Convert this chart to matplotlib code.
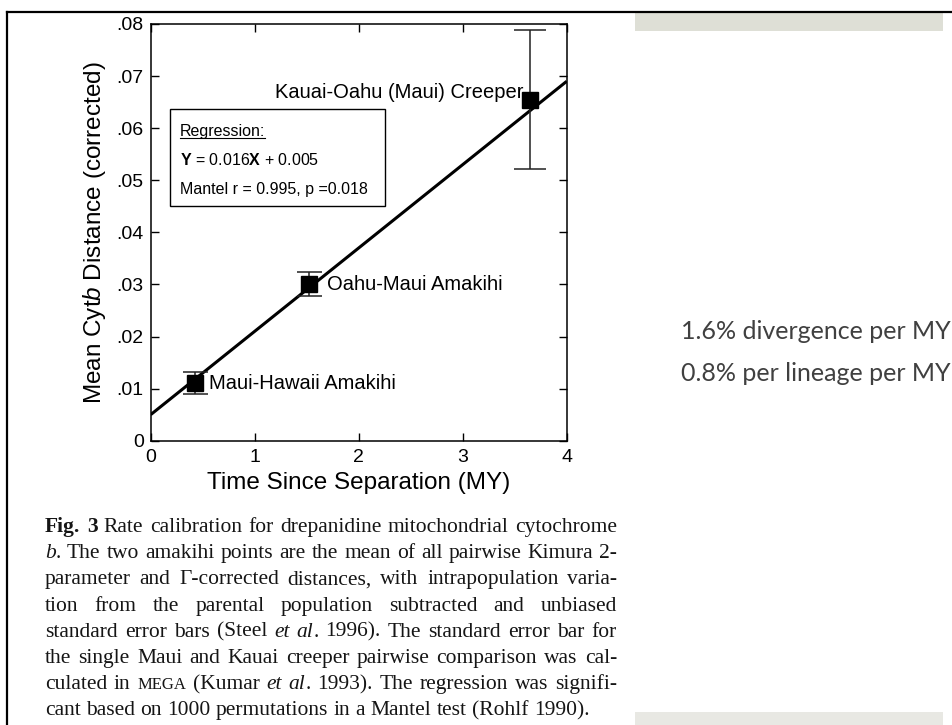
import re
import matplotlib
matplotlib.use('Agg')
import matplotlib.pyplot as plt
from matplotlib.patches import Rectangle
from matplotlib.lines import Line2D
from matplotlib.ticker import FuncFormatter

plt.rcParams['font.family'] = ['Liberation Sans', 'DejaVu Sans']
plt.rcParams['mathtext.fontset'] = 'custom'
plt.rcParams['mathtext.rm'] = 'Liberation Sans'
plt.rcParams['mathtext.it'] = 'Liberation Sans:italic'
plt.rcParams['mathtext.bf'] = 'Liberation Sans:bold'

# calibration points: time since separation vs mean corrected cyt b distance
pairs = ['Maui-Hawaii Amakihi', 'Oahu-Maui Amakihi', 'Kauai-Oahu (Maui) Creeper']
time_my = [0.43, 1.52, 3.65]
distance = [0.011, 0.030, 0.0655]
std_err = [0.0021, 0.0023, 0.0134]
cap_sizes = [9, 9, 11.5]
label_offsets = [(10, 0), (13, 0), (-5, 5)]
label_align = ['left', 'left', 'right']

slope, intercept = 0.016, 0.005
mantel_r, mantel_p = 0.995, 0.018

x_ticks = [0, 1, 2, 3, 4]
y_ticks = [0, 0.01, 0.02, 0.03, 0.04, 0.05, 0.06, 0.07, 0.08]

rate_notes = ['1.6% divergence per MY', '0.8% per lineage per MY']

caption_lines = [
    "**Fig.** **3** Rate calibration for drepanidine mitochondrial cytochrome",
    "*b*. The two amakihi points are the mean of all pairwise Kimura 2-",
    "parameter and \u0393-corrected distances, with intrapopulation varia-",
    "tion from the parental population subtracted and unbiased",
    "standard error bars (Steel *et* *al*. 1996). The standard error bar for",
    "the single Maui and Kauai creeper pairwise comparison was cal-",
    "culated in ^MEGA^ (Kumar *et* *al*. 1993). The regression was signifi-",
    "cant based on 1000 permutations in a Mantel test (Rohlf 1990).",
]

W, H = 952, 725
fig = plt.figure(figsize=(W / 100, H / 100), dpi=100)
fig.patch.set_facecolor('white')


def fx(px):
    return px / W


def fy(py):
    return 1 - py / H


# slide frame and grey header/footer strips
fig.add_artist(Line2D([fx(7), fx(952)], [fy(12), fy(12)], color='black', lw=1.6))
fig.add_artist(Line2D([fx(7), fx(7)], [fy(12), fy(725)], color='black', lw=1.6))
fig.add_artist(Rectangle((fx(635), fy(31)), fx(943) - fx(635), fy(13) - fy(31),
                         transform=fig.transFigure, color='#dedfd6', lw=0))
fig.add_artist(Rectangle((fx(635), fy(725)), fx(943) - fx(635), fy(712) - fy(725),
                         transform=fig.transFigure, color='#e8e8e3', lw=0))

ax = fig.add_axes([fx(150.7), fy(440.7), (566.7 - 150.7) / W, (440.7 - 24) / H])

# regression line across the full axis
xs = [x_ticks[0], x_ticks[-1]]
ax.plot(xs, [slope * x + intercept for x in xs], color='black', lw=2.2,
        solid_capstyle='butt', zorder=2)

for name, x, y, e, cs, off, ha in zip(pairs, time_my, distance, std_err,
                                      cap_sizes, label_offsets, label_align):
    ax.errorbar(x, y, yerr=e, fmt='s', color='black', ms=11.5,
                ecolor='#222222', elinewidth=1.1, capsize=cs, capthick=1.1, zorder=3)
    ax.annotate(name, (x, y), xytext=off, textcoords='offset points',
                ha=ha, va='center', fontsize=14.5)

ax.set_xlim(x_ticks[0], x_ticks[-1])
ax.set_ylim(y_ticks[0], y_ticks[-1])
ax.set_xticks(x_ticks)
ax.set_yticks(y_ticks)
ax.yaxis.set_major_formatter(FuncFormatter(
    lambda v, p: '0' if abs(v) < 1e-9 else ('%.2f' % v).lstrip('0')))
ax.tick_params(direction='in', length=6, width=1, top=True, right=True,
               labelsize=14, pad=5)
ax.tick_params(axis='x', pad=6)
for s in ax.spines.values():
    s.set_linewidth(1.1)

ax.set_xlabel('Time Since Separation (MY)', fontsize=17.5, labelpad=4)
ax.set_ylabel('Mean Cyt$\\mathit{b}$ Distance (corrected)', fontsize=17.5, labelpad=6)

# regression summary box
ax.add_patch(Rectangle((0.19, 0.0451), 2.06, 0.0186, fill=False, lw=1,
                       edgecolor='black', zorder=4))
reg_title = ax.text(0.28, 0.0594, 'Regression:', fontsize=11.5, va='center')
ax.text(0.28, 0.0539, '$\\mathbf{Y}$ = %.3f$\\mathbf{X}$ + %.3f' % (slope, intercept),
        fontsize=11.5, va='center')
ax.text(0.28, 0.0482, 'Mantel r = %.3f, p =%.3f' % (mantel_r, mantel_p),
        fontsize=11.5, va='center')

renderer = fig.canvas.get_renderer()
bb = reg_title.get_window_extent(renderer)
inv = fig.transFigure.inverted()
(u0, v0), (u1, _) = inv.transform([(bb.x0, bb.y0 + 1), (bb.x1, bb.y0 + 1)])
fig.add_artist(Line2D([u0, u1], [v0, v0], color='black', lw=0.8))

# rate notes on the right
for i, note in enumerate(rate_notes):
    fig.text(fx(681), fy(331 + 42 * i), note, family='Lato', fontsize=18,
             color='#404040', va='center', ha='left')

# justified figure caption
base = dict(family='Liberation Serif', fontsize=15.5, color='#151515')
styles = {
    'b': dict(base, fontweight='bold'),
    'i': dict(base, style='italic'),
    'c': dict(base, fontsize=12),
    'n': base,
}


def split_word(word):
    segs = []
    for b, i, c, n in re.findall(r'\*\*(.+?)\*\*|\*(.+?)\*|\^(.+?)\^|([^*^]+)', word):
        if b:
            segs.append((b, 'b'))
        elif i:
            segs.append((i, 'i'))
        elif c:
            segs.append((c, 'c'))
        else:
            segs.append((n, 'n'))
    return segs


def text_width(s, kind):
    t = fig.text(0, 0, s, **styles[kind])
    w = t.get_window_extent(renderer).width
    t.remove()
    return w


left, right = 45, 617
space_w = text_width('a a', 'n') - 2 * text_width('a', 'n')
for k, line in enumerate(caption_lines):
    words = [split_word(w) for w in line.split(' ')]
    widths = [[text_width(s, kind) for s, kind in w] for w in words]
    total = sum(sum(w) for w in widths)
    last = k == len(caption_lines) - 1
    gap = space_w if last else (right - left - total) / (len(words) - 1)
    x = left
    baseline = 532 + 26.2 * k
    for w, ws in zip(words, widths):
        for (s, kind), sw in zip(w, ws):
            fig.text(fx(x), fy(baseline), s, va='baseline', ha='left', **styles[kind])
            x += sw
        x += gap

fig.savefig('out.png', dpi=100)
